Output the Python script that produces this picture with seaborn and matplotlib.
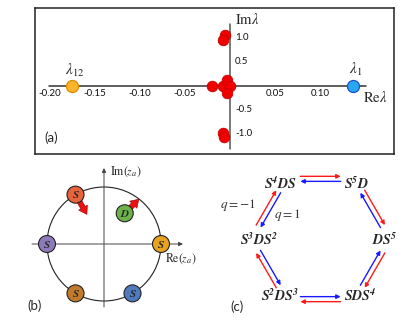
import numpy as np
import pandas as pd
import seaborn as sns
import matplotlib.pyplot as plt
from matplotlib.patches import Circle

# (a) eigenvalue spectrum
red_re = [-0.0056, -0.008, -0.020, -0.008, -0.003, 0.0, -0.003, -0.008, -0.0067]
red_im = [1.06, 0.96, 0.0, 0.0, 0.125, -0.01, -0.15, -0.97, -1.07]
lam1 = (0.137, 0.0)
lam12 = (-0.176, 0.0)
x_ticks = [-0.20, -0.15, -0.10, -0.05, 0.05, 0.10]
y_ticks = [1.0, 0.5, -0.5, -1.0]

# (b) vortices on the circle
s_angles = [120, 180, 240, 300, 0]
s_colors = ["#e8643c", "#8c7bb8", "#c27a2c", "#4f7bbd", "#e8a321"]
d_angle = 56
d_radius = 0.65
d_color = "#6db34a"

# (c) transition cycle
states = ["S^4DS", "S^5D", "DS^5", "SDS^4", "S^2DS^3", "S^3DS^2"]

sns.set_style("white")
plt.rcParams["font.family"] = ["Lato", "DejaVu Sans"]
plt.rcParams["mathtext.fontset"] = "stix"

W, H = 415, 330
fig = plt.figure(figsize=(W / 100, H / 100), dpi=100)


def px_axes(x0, y0, x1, y1):
    return fig.add_axes([x0 / W, 1 - y1 / H, (x1 - x0) / W, (y1 - y0) / H])


# ---------------- panel (a) ----------------
ax = px_axes(35, 8, 394, 154)
ax.set_xlim((35 - 230) / 900, (394 - 230) / 900)
ax.set_ylim((86 - 154) / 48, (86 - 8) / 48)
ax.set_xticks([])
ax.set_yticks([])
for sp in ax.spines.values():
    sp.set_linewidth(1.1)
    sp.set_color("#222222")
    sp.set_visible(True)

ax.plot([-0.201, 0.151], [0, 0], color="#333333", lw=1.1, zorder=1)
ax.plot([0, 0], [-1.31, 1.29], color="#555555", lw=1.1, zorder=1)

pts = pd.DataFrame({"re": red_re, "im": red_im})
sns.scatterplot(data=pts, x="re", y="im", s=58, color="#f20000",
                edgecolor="#c40000", linewidth=0.6, ax=ax, zorder=3, legend=False)
sns.scatterplot(x=[lam1[0]], y=[lam1[1]], s=75, color="#29a8f2",
                edgecolor="#1a4fd0", linewidth=0.9, ax=ax, zorder=3, legend=False)
sns.scatterplot(x=[lam12[0]], y=[lam12[1]], s=75, color="#fbb52a",
                edgecolor="#e08a00", linewidth=0.9, ax=ax, zorder=3, legend=False)
ax.set_xlabel("")
ax.set_ylabel("")

for t in x_ticks:
    ax.text(t, -0.15, f"{t:.2f}", ha="center", va="center", fontsize=7, color="#111111")
for t in y_ticks:
    ax.text(0.0055, t, f"{t:.1f}", ha="left", va="center", fontsize=7, color="#111111")

ax.text(0.0055, 1.375, r"$\mathrm{Im}\lambda$", ha="left", va="center", fontsize=10.5)
ax.text(0.148, -0.25, r"$\mathrm{Re}\lambda$", ha="left", va="center", fontsize=10.5)
ax.text(-0.173, 0.33, r"$\lambda_{12}$", ha="center", va="center", fontsize=11)
ax.text(0.14, 0.35, r"$\lambda_{1}$", ha="center", va="center", fontsize=11)
ax.text(-0.199, -1.083, "(a)", ha="center", va="center", fontsize=9.5)

# ---------------- panel (b) ----------------
R = 57
cx, cy = 104, 244
bx = px_axes(0, 170, 210, 330)
bx.set_xlim((0 - cx) / R, (210 - cx) / R)
bx.set_ylim((cy - 330) / R, (cy - 170) / R)
bx.axis("off")

axis_arrow = dict(arrowstyle="-|>", color="#444444", lw=0.7, mutation_scale=6,
                  shrinkA=0, shrinkB=0)
bx.annotate("", xy=((183 - cx) / R, 0), xytext=((32 - cx) / R, 0), arrowprops=axis_arrow)
bx.annotate("", xy=(0, (cy - 168) / R), xytext=(0, (cy - 307) / R),
            arrowprops=axis_arrow, annotation_clip=False)
bx.add_patch(Circle((0, 0), 1, fill=False, ec="#222222", lw=0.8, zorder=2))

bx.text(0.1, 1.26, r"$\mathrm{Im}(z_a)$", ha="left", va="center", fontsize=8.5,
        clip_on=False)
bx.text(1.07, -0.26, r"$\mathrm{Re}(z_a)$", ha="left", va="center", fontsize=8.5)
bx.text(-1.21, -1.09, "(b)", ha="center", va="center", fontsize=9.5)

sa = np.deg2rad(s_angles)
sx, sy = np.cos(sa), np.sin(sa)
dx = d_radius * np.cos(np.deg2rad(d_angle))
dy = d_radius * np.sin(np.deg2rad(d_angle))

# red velocity arrows
red_arrow = dict(arrowstyle="simple,head_width=0.9,head_length=0.7,tail_width=0.45",
                 fc="#ee1111", ec="#8a0000", lw=0.4, mutation_scale=8,
                 shrinkA=0, shrinkB=0)
inward = np.deg2rad(s_angles[0] + 180)
u = np.array([np.cos(inward), np.sin(inward)])
bx.annotate("", xy=(sx[0] + 0.40 * u[0], sy[0] + 0.40 * u[1]),
            xytext=(sx[0] + 0.12 * u[0], sy[0] + 0.12 * u[1]), arrowprops=red_arrow)
outward = np.deg2rad(45)
v = np.array([np.cos(outward), np.sin(outward)])
bx.annotate("", xy=(dx + 0.35 * v[0], dy + 0.35 * v[1]),
            xytext=(dx + 0.12 * v[0], dy + 0.12 * v[1]), arrowprops=red_arrow)

vort = pd.DataFrame({"x": list(sx) + [dx], "y": list(sy) + [dy],
                     "k": [f"v{i}" for i in range(6)]})
sns.scatterplot(data=vort, x="x", y="y", hue="k",
                palette=s_colors + [d_color], s=150, edgecolor="#222222",
                linewidth=0.8, ax=bx, zorder=4, legend=False)
bx.set_xlabel("")
bx.set_ylabel("")
for x, y in zip(sx, sy):
    bx.text(x, y, r"$\mathbfit{S}$", ha="center", va="center", fontsize=8, zorder=5)
bx.text(dx, dy, r"$\mathbfit{D}$", ha="center", va="center", fontsize=8, zorder=5)

# ---------------- panel (c) ----------------
Rc = 63
ccx, ccy = 320.5, 239
cax = px_axes(205, 170, 415, 330)
cax.set_xlim((205 - ccx) / Rc, (415 - ccx) / Rc)
cax.set_ylim((ccy - 330) / Rc, (ccy - 170) / Rc)
cax.axis("off")

node_xy = [(-0.643, 0.889), (0.571, 0.889), (1.016, 0.0),
           (0.627, -0.889), (-0.643, -0.889), (-0.984, 0.0)]
for lab, (x, y) in zip(states, node_xy):
    cax.text(x, y, r"$\mathbfit{" + lab + "}$", ha="center", va="center", fontsize=10)

mid_r, half_len, off = 0.955, 0.32, 0.04
for k, phi in enumerate([90, 30, -30, -90, -150, 150]):
    p = np.deg2rad(phi)
    n = np.array([np.cos(p), np.sin(p)])
    t = np.array([np.sin(p), -np.cos(p)])  # clockwise tangent
    for col, sgn, d in [("#ff1a1a", 1, t), ("#1a1aff", -1, -t)]:
        m = mid_r * n + sgn * off * n
        cax.annotate("", xy=m + half_len * d, xytext=m - half_len * d,
                     arrowprops=dict(arrowstyle="-|>", color=col, lw=1.0,
                                     mutation_scale=6, shrinkA=0, shrinkB=0))

cax.text((238 - ccx) / Rc, (ccy - 205) / Rc, r"$q=-1$", ha="center", va="center",
         fontsize=9.5, color="#333333")
cax.text((287 - ccx) / Rc, (ccy - 215) / Rc, r"$q=1$", ha="center", va="center",
         fontsize=9.5, color="#333333")
cax.text((237 - ccx) / Rc, (ccy - 307) / Rc, "(c)", ha="center", va="center", fontsize=9.5)

fig.savefig("out.png", dpi=100)
